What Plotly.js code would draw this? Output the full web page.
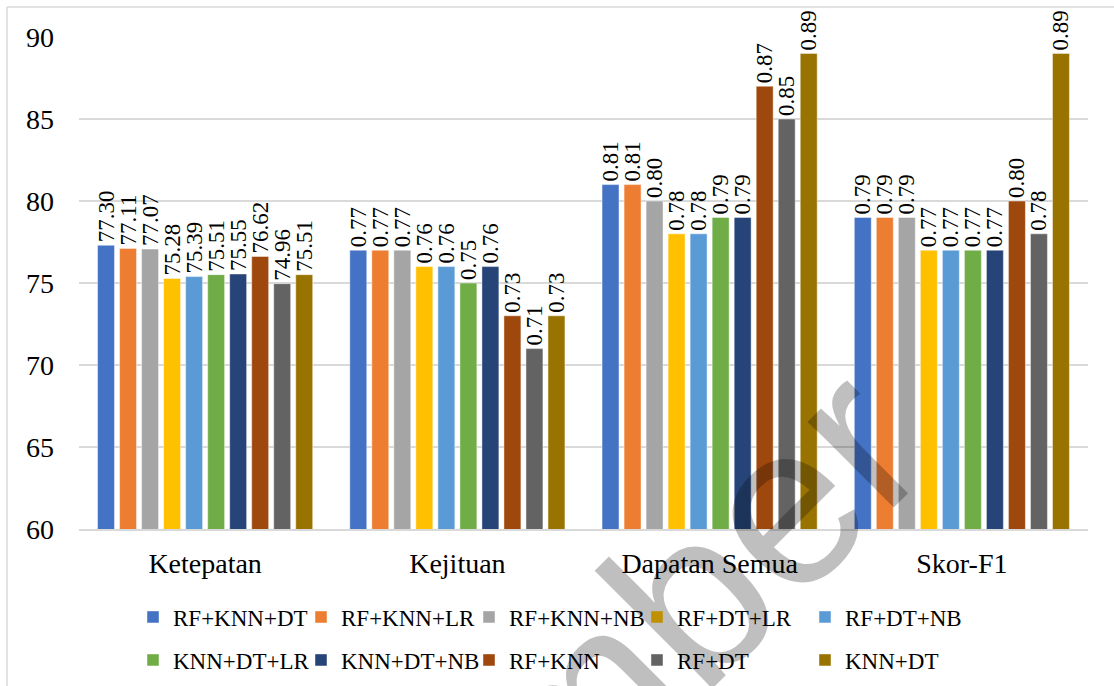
<!DOCTYPE html>
<html>
<head>
<meta charset="utf-8">
<script src="https://cdn.plot.ly/plotly-3.0.1.min.js"></script>
<style>
  html, body { margin: 0; padding: 0; background: #ffffff; overflow: hidden; }
  #chart { width: 1114px; height: 686px; }
</style>
</head>
<body>
<div id="chart"></div>
<script>
// Evaluation metrics per ensemble model
const categories = ['Ketepatan', 'Kejituan', 'Dapatan Semua', 'Skor-F1'];
const models = ['RF+KNN+DT', 'RF+KNN+LR', 'RF+KNN+NB', 'RF+DT+LR', 'RF+DT+NB',
                'KNN+DT+LR', 'KNN+DT+NB', 'RF+KNN', 'RF+DT', 'KNN+DT'];

// Ketepatan in percent, the other metrics as fractions
const ketepatan    = [77.30, 77.11, 77.07, 75.28, 75.39, 75.51, 75.55, 76.62, 74.96, 75.51];
const kejituan     = [0.77, 0.77, 0.77, 0.76, 0.76, 0.75, 0.76, 0.73, 0.71, 0.73];
const dapatanSemua = [0.81, 0.81, 0.80, 0.78, 0.78, 0.79, 0.79, 0.87, 0.85, 0.89];
const skorF1       = [0.79, 0.79, 0.79, 0.77, 0.77, 0.77, 0.77, 0.80, 0.78, 0.89];

const colors = ['#4472C4', '#ED7D31', '#A5A5A5', '#FFC000', '#5B9BD5',
                '#70AD47', '#264478', '#9E480E', '#636363', '#997300'];

const serif = '"Liberation Serif", "Times New Roman", Times, serif';

// plot area in pixels, used to place legend rows and frame lines
const W = 1114, H = 686;
const M = { l: 79, r: 26, t: 37, b: 157, autoexpand: false };
const pw = W - M.l - M.r, ph = H - M.t - M.b;
const px2x = p => (p - M.l) / pw;
const py2y = p => 1 - (p - M.t) / ph;

const traces = models.map((name, i) => ({
  type: 'bar',
  name: name,
  x: categories,
  y: [ketepatan[i], kejituan[i] * 100, dapatanSemua[i] * 100, skorF1[i] * 100],
  text: [ketepatan[i].toFixed(2), kejituan[i].toFixed(2),
         dapatanSemua[i].toFixed(2), skorF1[i].toFixed(2)],
  textposition: 'outside',
  textangle: -90,
  constraintext: 'none',
  cliponaxis: false,
  textfont: { family: serif, size: 23, color: '#000000' },
  marker: { color: colors[i], line: { color: 'rgba(255,255,255,0.6)', width: 0.75 } },
  legend: i < 5 ? 'legend' : 'legend2',
  hoverinfo: 'name+y'
}));

// two legend rows of five entries each
const legendBase = {
  orientation: 'h',
  xanchor: 'left',
  yanchor: 'middle',
  x: px2x(133),
  entrywidth: 123,
  entrywidthmode: 'pixels',
  font: { family: serif, size: 23, color: '#000000' },
  bgcolor: 'rgba(0,0,0,0)',
  traceorder: 'normal'
};

const frame = '#d9d9d9';

const layout = {
  width: W,
  height: H,
  margin: M,
  paper_bgcolor: '#ffffff',
  plot_bgcolor: '#ffffff',
  barmode: 'group',
  bargap: 0.127,
  bargroupgap: 0.23,
  showlegend: true,
  legend: Object.assign({}, legendBase, { y: py2y(617) }),
  legend2: Object.assign({}, legendBase, { y: py2y(660) }),
  xaxis: {
    type: 'category',
    showgrid: false,
    showline: true,
    linecolor: frame,
    linewidth: 1.5,
    ticks: '',
    ticklabelstandoff: 9,
    tickfont: { family: serif, size: 28, color: '#000000' }
  },
  yaxis: {
    range: [60, 90],
    dtick: 5,
    tick0: 60,
    showgrid: true,
    gridcolor: frame,
    gridwidth: 1.5,
    zeroline: false,
    showline: false,
    ticks: '',
    ticklabelstandoff: 24,
    tickfont: { family: serif, size: 28, color: '#000000' }
  },
  shapes: [
    { type: 'line', xref: 'paper', yref: 'paper',
      x0: px2x(7), x1: px2x(7), y0: py2y(7), y1: py2y(H + 20),
      line: { color: frame, width: 1.5 } },
    { type: 'line', xref: 'paper', yref: 'paper',
      x0: px2x(7), x1: px2x(W + 20), y0: py2y(7), y1: py2y(7),
      line: { color: frame, width: 1.5 } }
  ],
  annotations: [
    { text: 'member', xref: 'paper', yref: 'paper',
      x: px2x(582), y: py2y(706), xanchor: 'center', yanchor: 'middle',
      textangle: -45, showarrow: false,
      font: { family: '"Liberation Sans", Arial, sans-serif', size: 230, color: 'rgba(0,0,0,0.25)' } }
  ]
};

Plotly.newPlot('chart', traces, layout, { displayModeBar: false, staticPlot: true });
</script>
</body>
</html>
